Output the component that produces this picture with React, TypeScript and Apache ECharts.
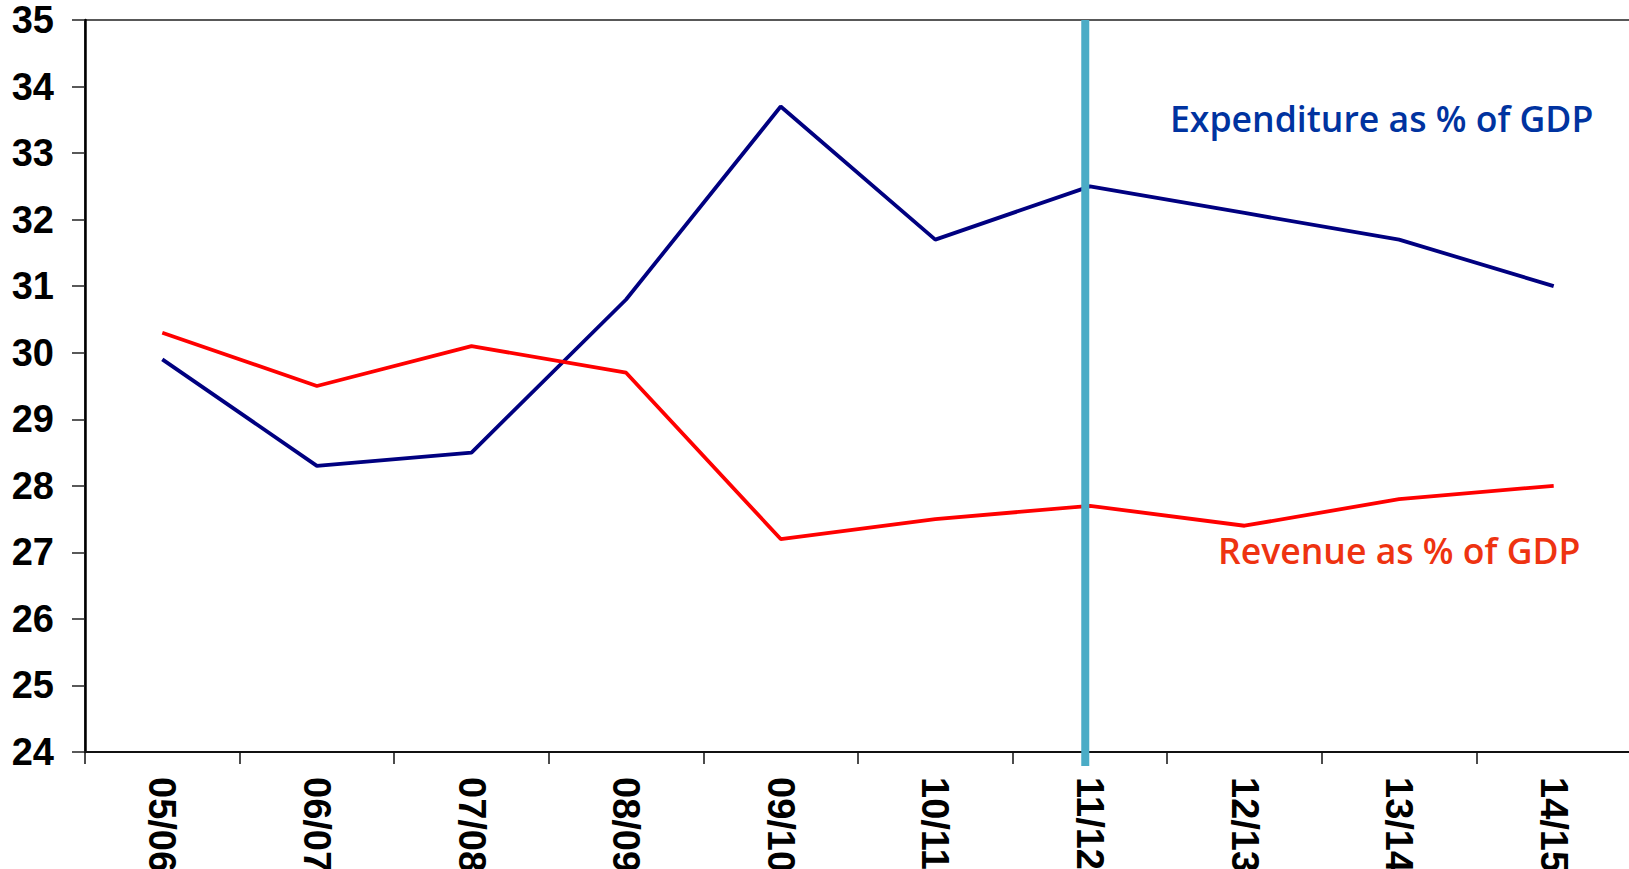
import React, { useEffect, useRef } from "react";
import * as echarts from "echarts";

// Fiscal years on the category axis
const years = ["05/06", "06/07", "07/08", "08/09", "09/10", "10/11", "11/12", "12/13", "13/14", "14/15"];

// Government expenditure and revenue, % of GDP
const expenditure = [29.9, 28.3, 28.5, 30.8, 33.7, 31.7, 32.5, 32.1, 31.7, 31.0];
const revenue = [30.3, 29.5, 30.1, 29.7, 27.2, 27.5, 27.7, 27.4, 27.8, 28.0];

// Y axis range
const yMin = 24;
const yMax = 35;

// Divider between outturn and forecast years, on a 0..N scale of category slots
const dividerAt = 6.47;

const seriesNames = ["Expenditure as % of GDP", "Revenue as % of GDP"];

const FONT = "'Liberation Sans', Arial, sans-serif";
const NOTE_FONT = "'Open Sans', 'Noto Sans', sans-serif";

export default function App() {
  const ref = useRef<HTMLDivElement>(null);

  useEffect(() => {
    if (!ref.current) return;
    const chart = echarts.init(ref.current, undefined, { renderer: "svg" });
    chart.setOption({
      animation: false,
      backgroundColor: "#ffffff",
      grid: {
        left: 85,
        right: -2,
        top: 20,
        bottom: 117,
        show: true,
        borderColor: "#222",
        borderWidth: 1.5,
        containLabel: false,
        outerBoundsMode: "none",
      },
      xAxis: [
        {
          type: "category",
          data: years,
          boundaryGap: true,
          axisLine: { lineStyle: { color: "#111", width: 2 } },
          axisTick: { show: true, interval: 0, length: 12, lineStyle: { color: "#111", width: 1.5 } },
          axisLabel: {
            interval: 0,
            rotate: -90,
            margin: 25,
            color: "#000",
            fontFamily: FONT,
            fontWeight: "bold",
            fontSize: 38,
          },
          splitLine: { show: false },
        },
        {
          type: "value",
          min: 0,
          max: years.length,
          show: false,
        },
      ],
      yAxis: {
        type: "value",
        min: yMin,
        max: yMax,
        interval: 1,
        axisLine: { show: true, lineStyle: { color: "#000", width: 2.5 } },
        axisTick: { show: true, length: 13, lineStyle: { color: "#222", width: 1.5 } },
        axisLabel: {
          margin: 31,
          color: "#000",
          fontFamily: FONT,
          fontWeight: "bold",
          fontSize: 38,
        },
        splitLine: { show: false },
      },
      series: [
        {
          name: seriesNames[0],
          type: "line",
          data: expenditure,
          symbol: "none",
          lineStyle: { color: "#000080", width: 3.8 },
          z: 3,
        },
        {
          name: seriesNames[1],
          type: "line",
          data: revenue,
          symbol: "none",
          lineStyle: { color: "#ff0000", width: 3.8 },
          z: 3,
        },
        {
          // vertical divider, running from the top of the plot to just below the x axis
          name: "divider",
          type: "custom",
          xAxisIndex: 1,
          clip: false,
          silent: true,
          z: 4,
          data: [[dividerAt, yMax]],
          renderItem: (_params: any, api: any) => {
            const top = api.coord([dividerAt, yMax]);
            const bottom = api.coord([dividerAt, yMin]);
            return {
              type: "line",
              shape: { x1: top[0], y1: top[1], x2: bottom[0], y2: bottom[1] + 14 },
              style: { stroke: "#4BACC6", lineWidth: 8 },
            };
          },
        },
      ],
      graphic: [
        {
          type: "text",
          x: 1170,
          y: 118,
          style: {
            text: seriesNames[0],
            fill: "#0033A0",
            font: `600 35.6px ${NOTE_FONT}`,
            textAlign: "left",
            textVerticalAlign: "middle",
          },
        },
        {
          type: "text",
          x: 1218,
          y: 550,
          style: {
            text: seriesNames[1],
            fill: "#EE3311",
            font: `600 35.6px ${NOTE_FONT}`,
            textAlign: "left",
            textVerticalAlign: "middle",
          },
        },
      ],
    });
    return () => chart.dispose();
  }, []);

  return (
    <div
      ref={ref}
      style={{ position: "fixed", left: 0, top: 0, width: 1629, height: 869 }}
    />
  );
}
